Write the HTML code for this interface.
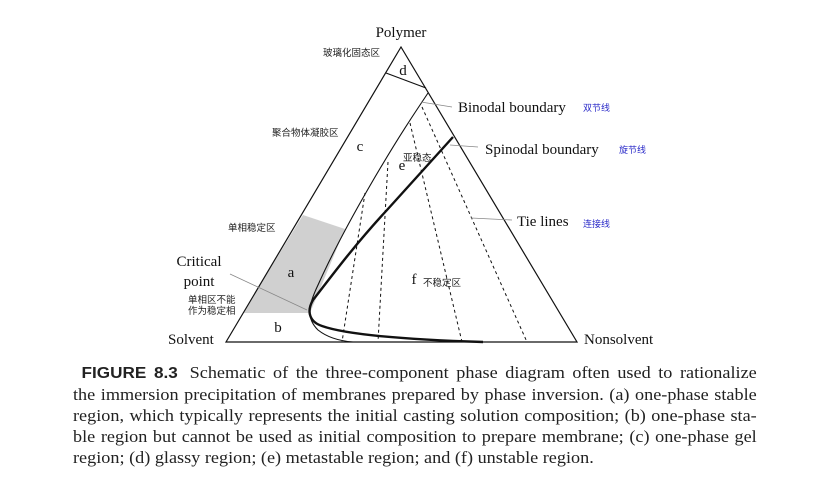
<!DOCTYPE html>
<html><head><meta charset="utf-8"><style>
html,body{margin:0;padding:0;background:#fff;}
body{width:819px;height:482px;position:relative;overflow:hidden;}
svg{position:absolute;left:0;top:0;}
.cap{position:absolute;left:73px;top:362px;width:639px;transform:scaleX(1.07);transform-origin:0 0;font-family:"Liberation Serif",serif;font-size:17px;line-height:21px;color:#222;}
.cap div{white-space:nowrap;text-align:justify;text-align-last:justify;}
.cap div.last{text-align-last:left;}
.cap b{font-family:"Liberation Sans",sans-serif;font-weight:bold;font-size:16px;margin-left:8px;margin-right:4px;}
</style></head><body>
<svg width="819" height="482" viewBox="0 0 819 482">
<polygon points="243,313 303,215 345,229 310,313" fill="#d0d0d0"/>
<polygon points="401,47 226,342 577,342" fill="none" stroke="#111" stroke-width="1.2"/>
<line x1="386" y1="73" x2="426" y2="88" stroke="#111" stroke-width="1.2"/>
<path d="M428,93 L418,108 C390,150 345,225 318,285 C308,306 306,318 318,330 C328,338 340,341 353,342" fill="none" stroke="#111" stroke-width="1.1"/>
<path d="M453,137 L387,210 C350,250 325,285 313,300 C306,312 310,322 322,326 C350,336 420,340 483,342" fill="none" stroke="#111" stroke-width="2.4"/>
<g stroke="#111" stroke-width="1" stroke-dasharray="3,3" fill="none">
<line x1="365" y1="193" x2="342" y2="342"/>
<line x1="388" y1="162" x2="378" y2="342"/>
<line x1="410" y1="123" x2="462" y2="342"/>
<line x1="422" y1="107" x2="527" y2="342"/>
</g>
<g stroke="#888" stroke-width="0.8" fill="none">
<line x1="452" y1="107" x2="421" y2="102"/>
<line x1="478" y1="147" x2="450" y2="145"/>
<line x1="512" y1="220" x2="471" y2="218"/>
<line x1="230" y1="274" x2="307" y2="310"/>
</g>
<g font-family="Liberation Serif,serif" fill="#111">
<text x="401" y="37" font-size="15" text-anchor="middle">Polymer</text>
<text x="403" y="75" font-size="15" text-anchor="middle">d</text>
<text x="458" y="112" font-size="15">Binodal boundary</text>
<text x="485" y="154" font-size="15">Spinodal boundary</text>
<text x="517" y="226" font-size="15">Tie lines</text>
<text x="360" y="151" font-size="15" text-anchor="middle">c</text>
<text x="402" y="170" font-size="15" text-anchor="middle">e</text>
<text x="291" y="277" font-size="15" text-anchor="middle">a</text>
<text x="278" y="332" font-size="15" text-anchor="middle">b</text>
<text x="414" y="284" font-size="15" text-anchor="middle">f</text>
<text x="199" y="266" font-size="15" text-anchor="middle">Critical</text>
<text x="199" y="286" font-size="15" text-anchor="middle">point</text>
<text x="168" y="344" font-size="15">Solvent</text>
<text x="584" y="344" font-size="15">Nonsolvent</text>
</g>
<g font-family="'Noto Sans CJK SC',sans-serif" font-size="9.5" fill="#222">
<text x="323" y="56">玻璃化固态区</text>
<text x="272" y="136">聚合物体凝胶区</text>
<text x="403" y="161">亚稳态</text>
<text x="228" y="231">单相稳定区</text>
<text x="188" y="303">单相区不能</text>
<text x="188" y="314">作为稳定相</text>
<text x="423" y="286">不稳定区</text>
</g>
<g font-family="'Noto Sans CJK SC',sans-serif" font-size="9" fill="#2a2ac8">
<text x="583" y="111">双节线</text>
<text x="619" y="153">旋节线</text>
<text x="583" y="227">连接线</text>
</g>
</svg>
<div class="cap">
<div><b>FIGURE 8.3</b> Schematic of the three-component phase diagram often used to rationalize</div>
<div>the immersion precipitation of membranes prepared by phase inversion. (a) one-phase stable</div>
<div>region, which typically represents the initial casting solution composition; (b) one-phase sta-</div>
<div>ble region but cannot be used as initial composition to prepare membrane; (c) one-phase gel</div>
<div class="last">region; (d) glassy region; (e) metastable region; and (f) unstable region.</div>
</div>
</body></html>
